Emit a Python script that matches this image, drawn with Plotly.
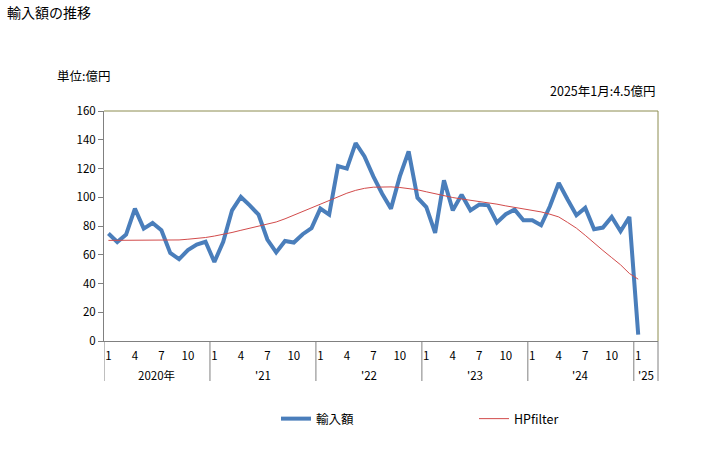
import plotly.graph_objects as go

months = [f"{y}-{m:02d}" for y in range(2020, 2025) for m in range(1, 13)] + ["2025-01"]
import_values = [74.8, 68.9, 74.0, 92.1, 78.2, 82.1, 77.0, 61.3, 56.9, 63.2, 67.1, 69.0,
                 55.0, 69.0, 90.9, 100.2, 94.4, 87.9, 70.6, 61.6, 69.6, 68.5, 74.3, 78.5,
                 92.1, 87.9, 121.7, 119.9, 137.7, 128.4, 114.5, 102.5, 92.1, 114.5, 131.9, 99.7,
                 93.2, 75.2, 111.8, 90.9, 101.8, 90.9, 94.9, 94.4, 82.4, 88.2, 91.4, 84.0,
                 84.0, 80.5, 93.7, 109.9, 98.4, 87.5, 92.6, 77.7, 78.9, 86.3, 76.4, 86.3,
                 4.5]
hp_values = [70.0, 70.0, 70.0, 70.0, 70.0, 70.0, 70.0, 70.0, 70.3, 70.8, 71.3, 72.0,
             73.0, 74.0, 75.5, 77.0, 78.5, 80.0, 81.3, 82.8, 85.0, 87.5, 90.0, 92.5,
             95.3, 98.0, 100.5, 102.8, 104.8, 106.2, 107.0, 107.3, 107.2, 106.8, 106.2, 105.2,
             103.8, 102.3, 100.9, 99.8, 98.8, 98.0, 97.2, 96.2, 95.2, 94.0, 93.0, 92.0,
             91.0, 89.8, 88.2, 86.3, 82.5, 78.5, 73.5, 68.0, 63.0, 58.0, 53.0, 47.0,
             43.0]
month_ticks = [1, 4, 7, 10]
year_labels = ["2020年", "'21", "'22", "'23", "'24", "'25"]

idx = list(range(len(months)))
tick_idx = [i for i in idx if int(months[i][5:]) in month_ticks]
tick_txt = [str(int(months[i][5:])) for i in tick_idx]

FONT = "Noto Sans CJK JP"
L, R, T, B = 104, 658, 111, 341
PW, PH = R - L, B - T


def px(xp):
    return (xp - L) / PW


def py(yp):
    return (B - yp) / PH


fig = go.Figure()
fig.add_trace(go.Scatter(x=idx, y=import_values, mode="lines", name="輸入額",
                         line=dict(color="#4A7EBB", width=4)))
fig.add_trace(go.Scatter(x=idx, y=hp_values, mode="lines", name="HPfilter",
                         line=dict(color="#D24B4B", width=1)))

x_max = 62.24
fig.update_layout(
    width=728, height=450,
    margin=dict(l=L, r=728 - R, t=T, b=450 - B),
    paper_bgcolor="white", plot_bgcolor="white",
    font=dict(family=FONT, size=11, color="black"),
    showlegend=True,
    legend=dict(orientation="h", x=px(276), xanchor="left",
                y=py(419), yanchor="middle",
                entrywidth=153, entrywidthmode="pixels",
                font=dict(size=12.5, family=FONT), bgcolor="rgba(0,0,0,0)"),
    xaxis=dict(range=[-0.5, x_max], showgrid=False, zeroline=False,
               tickmode="array", tickvals=tick_idx, ticktext=tick_txt,
               ticks="", ticklabelstandoff=4,
               showline=True, linecolor="#808080", linewidth=1,
               tickfont=dict(size=11.5, family=FONT)),
    yaxis=dict(range=[0, 160], dtick=20, showgrid=False, zeroline=False,
               ticks="outside", ticklen=5, tickcolor="#808080",
               showline=True, linecolor="#808080", linewidth=1,
               tickfont=dict(size=11.5, family=FONT)),
)

# top and right border
fig.add_shape(type="line", xref="paper", yref="paper", x0=0, x1=1, y0=1, y1=1,
              line=dict(color="#8C8C50", width=1))
fig.add_shape(type="line", xref="paper", yref="paper", x0=1, x1=1, y0=0, y1=1,
              line=dict(color="#8C8C50", width=1))

# year dividers
div_bottom = py(381)
dividers = [-0.5, 11.5, 23.5, 35.5, 47.5, 59.5]
for d in dividers:
    fig.add_shape(type="line", xref="x", yref="paper", x0=d, x1=d, y0=0, y1=div_bottom,
                  line=dict(color="#808080", width=1))
fig.add_shape(type="line", xref="paper", yref="paper", x0=1, x1=1, y0=0, y1=div_bottom,
              line=dict(color="#808080", width=1))

year_centers = [5.5, 17.5, 29.5, 41.5, 53.5, (59.5 + x_max) / 2]
for yc, lab in zip(year_centers, year_labels):
    fig.add_annotation(x=yc, xref="x", y=py(375), yref="paper", text=lab,
                       showarrow=False, font=dict(size=11.5, family=FONT),
                       xanchor="center", yanchor="middle")

fig.add_annotation(x=px(5), xref="paper", y=py(12), yref="paper",
                   text="輸入額の推移", showarrow=False, xanchor="left", yanchor="middle",
                   font=dict(size=14, family=FONT))
fig.add_annotation(x=px(55), xref="paper", y=py(75), yref="paper",
                   text="単位:億円", showarrow=False, xanchor="left", yanchor="middle",
                   font=dict(size=12.5, family=FONT))
fig.add_annotation(x=1, xref="paper", y=py(90), yref="paper",
                   text="2025年1月:4.5億円", showarrow=False, xanchor="right", yanchor="middle",
                   font=dict(size=12.5, family=FONT))

fig.write_html("out.html")
